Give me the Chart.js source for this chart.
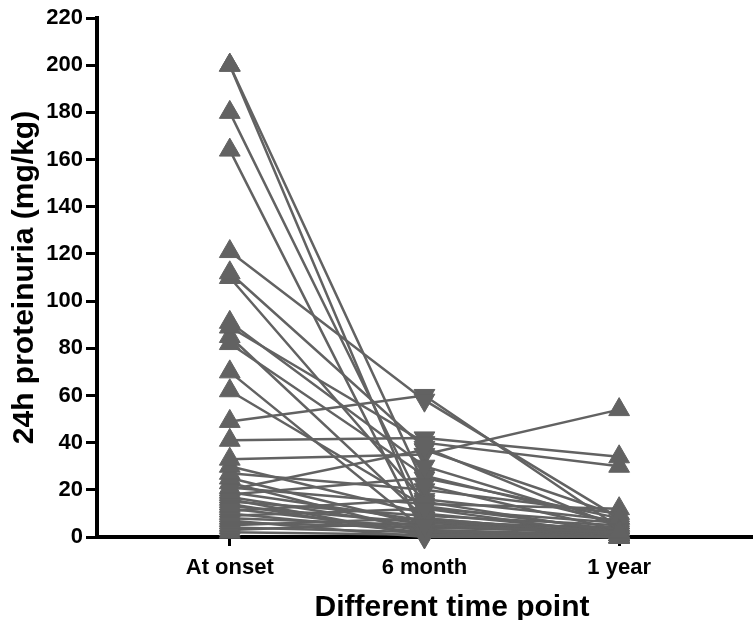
<!DOCTYPE html>
<html>
<head>
<meta charset="utf-8">
<script src="https://cdn.jsdelivr.net/npm/chart.js@4/dist/chart.umd.min.js"></script>
<style>
  html, body { margin: 0; padding: 0; background: #fff; overflow: hidden; }
  #wrap { width: 753px; height: 620px; overflow: hidden; }
  canvas { display: block; }
</style>
</head>
<body>
<div id="wrap"><canvas id="c" width="820" height="626"></canvas></div>
<script>
// Time points (category labels)
const timePoints = ["At onset", "6 month", "1 year"];
// One value per subject at each time point (mg/kg)
const atOnset = [200, 200, 180, 164, 121, 112, 110, 91, 89, 85, 82, 70, 62, 49, 41, 33, 30, 27, 25, 23, 21, 19, 18, 17, 15, 14, 13, 12, 11, 10, 9, 8, 7, 6, 5, 4, 3, 2, 20, 16];
const month6  = [5, 22, 12, 1, 58, 38, 15, 30, 40, 8, 26, 3, 13, 60, 42, 35, 10, 20, 5, 2, 14, 7, 25, 4, 9, 1, 6, 3, 16, 2, 12, 5, 0, 4, 8, 2, 6, 1, 37, 0.5];
const year1   = [2, 3, 1, 0, 8, 4, 2, 5, 30, 1, 6, 0, 3, 4, 34, 54, 2, 10, 1, 0, 12, 3, 8, 2, 5, 0, 4, 1, 7, 0, 6, 2, 0, 3, 1, 0, 2, 0, 9, 0];
const yTicks = [0, 20, 40, 60, 80, 100, 120, 140, 160, 180, 200, 220];

const grey = '#626262';
const datasets = atOnset.map((v, i) => ({
  data: [v, month6[i], year1[i]].map((y, k) => ({ x: k, y: y })),
  borderColor: grey,
  backgroundColor: grey,
  borderWidth: 2.5,
  pointStyle: 'triangle',
  pointRadius: 12,
  pointBorderWidth: 1,
  pointBorderColor: grey,
  pointBackgroundColor: grey,
  pointRotation: [0, 180, 0],
  tension: 0,
  clip: false
}));

const FONT = 'Liberation Sans, Arial, sans-serif';

new Chart(document.getElementById('c'), {
  type: 'line',
  data: { datasets },
  options: {
    responsive: false,
    animation: false,
    events: [],
    layout: { padding: { left: 7, top: 18, right: 1, bottom: 0 } },
    plugins: { legend: { display: false }, tooltip: { enabled: false } },
    scales: {
      x: {
        type: 'linear',
        min: -0.682,
        max: 2.965,
        afterBuildTicks: (s) => { s.ticks = timePoints.map((_, k) => ({ value: k })); },
        afterFit: (s) => { s.height = 89; },
        border: { color: '#000', width: 4 },
        grid: { display: true, drawOnChartArea: false, drawTicks: true, tickLength: 9, color: '#000', lineWidth: 3 },
        ticks: {
          color: '#000',
          padding: 9,
          font: { family: FONT, size: 22, weight: 'bold' },
          callback: (v) => timePoints[v] ?? ''
        },
        title: {
          display: true,
          text: 'Different time point',
          color: '#000',
          padding: { top: 2, bottom: 0 },
          font: { family: FONT, size: 30, weight: 'bold' }
        }
      },
      y: {
        type: 'linear',
        min: 0,
        max: 220,
        afterBuildTicks: (s) => { s.ticks = yTicks.map(v => ({ value: v })); },
        afterFit: (s) => { s.width = 90; },
        border: { color: '#000', width: 4 },
        grid: { display: true, drawOnChartArea: false, drawTicks: true, tickLength: 11, color: '#000', lineWidth: 3 },
        ticks: {
          color: '#000',
          padding: 3,
          font: { family: FONT, size: 22, weight: 'bold' }
        },
        title: {
          display: true,
          text: '24h proteinuria (mg/kg)',
          color: '#000',
          padding: { top: 0, bottom: 2 },
          font: { family: FONT, size: 30, weight: 'bold' }
        }
      }
    }
  }
});
</script>
</body>
</html>
